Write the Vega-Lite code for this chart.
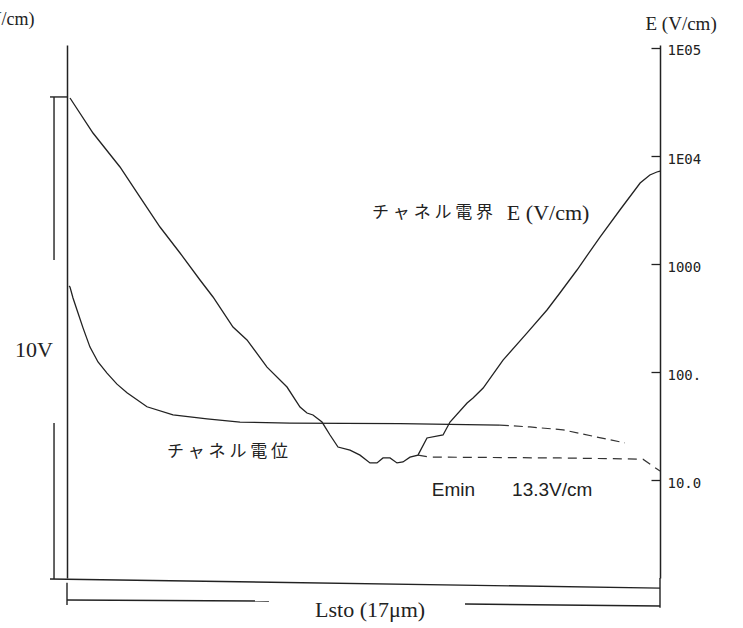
{
  "$schema": "https://vega.github.io/schema/vega-lite/v6.json",
  "width": 593,
  "height": 533,
  "autosize": {"type": "none"},
  "padding": {"left": 67, "top": 45, "right": 83, "bottom": 50},
  "background": "white",
  "config": {"view": {"stroke": null}, "axis": {"grid": false}},
  "datasets": {
    "pot": [
      {"x": 0.06, "v": 6.07}, {"x": 0.086, "v": 6.05}, {"x": 0.172, "v": 5.82}, {"x": 0.287, "v": 5.57},
      {"x": 0.459, "v": 5.2}, {"x": 0.659, "v": 4.8}, {"x": 0.889, "v": 4.49}, {"x": 1.147, "v": 4.26},
      {"x": 1.433, "v": 4.03}, {"x": 1.72, "v": 3.85}, {"x": 2.293, "v": 3.56}, {"x": 3.039, "v": 3.39},
      {"x": 4.014, "v": 3.31}, {"x": 4.96, "v": 3.24}, {"x": 6.393, "v": 3.22}, {"x": 9.547, "v": 3.21},
      {"x": 12.41, "v": 3.18}
    ],
    "potDash": [
      {"x": 12.41, "v": 3.18}, {"x": 13.27, "v": 3.14}, {"x": 14.22, "v": 3.08}, {"x": 15.19, "v": 2.93},
      {"x": 15.99, "v": 2.81}
    ],
    "field": [
      {"x": 0.086, "e": 34430}, {"x": 0.745, "e": 16330}, {"x": 1.519, "e": 7910}, {"x": 2.093, "e": 4170},
      {"x": 2.666, "e": 2200}, {"x": 3.24, "e": 1265}, {"x": 3.813, "e": 711}, {"x": 4.186, "e": 495},
      {"x": 4.759, "e": 261}, {"x": 5.16, "e": 198}, {"x": 5.734, "e": 111}, {"x": 6.307, "e": 72.6},
      {"x": 6.68, "e": 47.4}, {"x": 6.88, "e": 41.7}, {"x": 7.052, "e": 40.0}, {"x": 7.31, "e": 34.4},
      {"x": 7.54, "e": 26.1}, {"x": 7.769, "e": 20.2}, {"x": 8.113, "e": 18.9}, {"x": 8.4, "e": 17.0},
      {"x": 8.686, "e": 14.4}, {"x": 8.887, "e": 14.4}, {"x": 9.059, "e": 16.0}, {"x": 9.26, "e": 16.0},
      {"x": 9.46, "e": 14.4}, {"x": 9.632, "e": 14.7}, {"x": 9.833, "e": 16.3}, {"x": 10.062, "e": 17.0},
      {"x": 10.32, "e": 24.5}, {"x": 10.78, "e": 26.1}, {"x": 10.98, "e": 34.4}, {"x": 11.47, "e": 51.6},
      {"x": 11.64, "e": 57.4}, {"x": 11.93, "e": 71.1}, {"x": 12.5, "e": 129}, {"x": 13.19, "e": 230},
      {"x": 13.76, "e": 375}, {"x": 14.13, "e": 539}, {"x": 14.62, "e": 880}, {"x": 15.28, "e": 1778},
      {"x": 15.85, "e": 3162}, {"x": 16.43, "e": 5623}, {"x": 16.71, "e": 6668}, {"x": 16.91, "e": 7110},
      {"x": 17.0, "e": 7250}
    ],
    "emin": [
      {"x": 10.062, "e": 17.0}, {"x": 10.41, "e": 16.3}, {"x": 14.13, "e": 16.0}, {"x": 16.51, "e": 15.6},
      {"x": 17.0, "e": 12.1}
    ],
    "segs": [
      {"x": -0.487, "x2": 0.03, "v": 10, "v2": 10},
      {"x": -0.372, "x2": -0.372, "v": 10, "v2": 6.61},
      {"x": -0.372, "x2": -0.372, "v": 3.22, "v2": -0.02},
      {"x": -0.487, "x2": 17, "v": -0.02, "v2": -0.21},
      {"x": 0, "x2": 5.79, "v": -0.457, "v2": -0.478},
      {"x": 11.41, "x2": 17, "v": -0.541, "v2": -0.582},
      {"x": 0, "x2": 0, "v": -0.1, "v2": -0.56},
      {"x": 17, "x2": 17, "v": 0, "v2": -0.62}
    ],
    "serifText": [
      {"x": -1.49, "v": 4.74, "t": "10V"},
      {"x": 7.11, "v": -0.67, "t": "Lsto (17μm)"},
      {"x": 12.61, "v": 7.59, "t": "E (V/cm)"}
    ],
    "cjkText": [
      {"x": 8.744, "v": 7.59, "t": "チ ャ ネ ル 電 界"},
      {"x": 2.867, "v": 2.62, "t": "チ ャ ネ ル 電 位"}
    ],
    "sansText": [
      {"x": 10.46, "v": 1.83, "t": "Emin"},
      {"x": 12.76, "v": 1.83, "t": "13.3V/cm"}
    ]
  },
  "encoding": {
    "x": {"field": "x", "type": "quantitative", "scale": {"domain": [0, 17], "nice": false, "zero": false}, "axis": null}
  },
  "layer": [
    {
      "encoding": {
        "y": {
          "field": "v", "type": "quantitative",
          "scale": {"domain": [0, 11.08], "nice": false, "zero": false},
          "axis": {
            "orient": "left", "domain": true, "domainColor": "#222", "domainWidth": 1.5,
            "ticks": false, "labels": false, "grid": false,
            "title": "E (V/cm)", "titleAngle": 0, "titleAlign": "right", "titleBaseline": "middle",
            "titleX": -33, "titleY": -26, "titleFont": "Liberation Serif", "titleFontSize": 18,
            "titleFontWeight": "normal", "titleColor": "#222"
          }
        }
      },
      "layer": [
        {"data": {"name": "pot"}, "mark": {"type": "line", "color": "#222", "strokeWidth": 1.3}},
        {"data": {"name": "potDash"}, "mark": {"type": "line", "color": "#333", "strokeWidth": 1.2, "strokeDash": [9, 5]}},
        {"data": {"name": "segs"}, "mark": {"type": "rule", "color": "#222", "strokeWidth": 1.4},
         "encoding": {"x2": {"field": "x2"}, "y2": {"field": "v2"}}},
        {"data": {"name": "serifText"}, "mark": {"type": "text", "align": "left", "baseline": "middle", "font": "Liberation Serif", "fontSize": 22, "color": "#222"},
         "encoding": {"text": {"field": "t"}}},
        {"data": {"name": "cjkText"}, "mark": {"type": "text", "align": "left", "baseline": "middle", "font": "Noto Sans CJK JP", "fontSize": 17, "color": "#222"},
         "encoding": {"text": {"field": "t"}}},
        {"data": {"name": "sansText"}, "mark": {"type": "text", "align": "left", "baseline": "middle", "font": "Liberation Sans", "fontSize": 19, "color": "#222"},
         "encoding": {"text": {"field": "t"}}}
      ]
    },
    {
      "encoding": {
        "y": {
          "field": "e", "type": "quantitative",
          "scale": {"type": "log", "domain": [1.238, 106600], "nice": false},
          "axis": {
            "orient": "right", "values": [10, 100, 1000, 10000, 100000],
            "domain": true, "domainColor": "#222", "domainWidth": 1.5,
            "ticks": true, "tickSize": -9, "tickColor": "#222", "tickWidth": 1.3,
            "labelPadding": 16, "labelFont": "DejaVu Sans Mono", "labelFontSize": 14, "labelColor": "#222",
            "labelAlign": "left", "labelBaseline": "middle", "labelOffset": 3, "labelFlush": false, "labelOverlap": false,
            "labelExpr": "datum.value >= 50000 ? '1E05' : datum.value >= 5000 ? '1E04' : datum.value >= 500 ? '1000' : datum.value >= 50 ? '100.' : '10.0'",
            "grid": false,
            "title": "E (V/cm)", "titleAngle": 0, "titleAlign": "left", "titleBaseline": "middle",
            "titleX": -15, "titleY": -22, "titleFont": "Liberation Serif", "titleFontSize": 19,
            "titleFontWeight": "normal", "titleColor": "#222"
          }
        }
      },
      "layer": [
        {"data": {"name": "field"}, "mark": {"type": "line", "color": "#222", "strokeWidth": 1.3}},
        {"data": {"name": "emin"}, "mark": {"type": "line", "color": "#333", "strokeWidth": 1.2, "strokeDash": [9, 6]}}
      ]
    }
  ],
  "resolve": {"scale": {"y": "independent"}, "axis": {"y": "independent"}}
}
